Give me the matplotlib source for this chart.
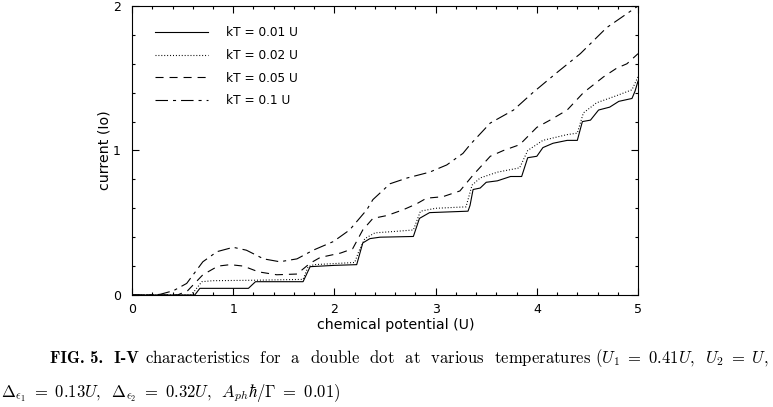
import matplotlib
matplotlib.use("Agg")
import matplotlib.pyplot as plt
import numpy as np

plt.rcParams['font.family'] = ['DejaVu Sans']
plt.rcParams['mathtext.fontset'] = 'cm'
plt.rcParams['lines.scale_dashes'] = False

# kT = 0.01 U
mu1 = [0, 0.62, 0.67, 1.15, 1.22, 1.69, 1.76, 2.0, 2.22, 2.28, 2.35, 2.45, 2.78, 2.84,
       2.94, 3.32, 3.34, 3.37, 3.44, 3.50, 3.61, 3.74, 3.85, 3.91, 4.0, 4.06, 4.16, 4.30,
       4.40, 4.45, 4.53, 4.61, 4.72, 4.81, 4.94, 4.97, 5.0]
i1 = [0, 0, 0.046, 0.046, 0.092, 0.092, 0.196, 0.205, 0.21, 0.36, 0.39, 0.40, 0.405, 0.53,
      0.57, 0.58, 0.62, 0.73, 0.74, 0.78, 0.79, 0.82, 0.82, 0.95, 0.96, 1.02, 1.05, 1.07,
      1.07, 1.20, 1.21, 1.28, 1.30, 1.34, 1.36, 1.41, 1.48]
# kT = 0.02 U
mu2 = [0, 0.58, 0.62, 0.69, 0.8, 1.2, 1.69, 1.74, 1.80, 2.2, 2.24, 2.30, 2.40, 2.60, 2.78,
       2.85, 3.0, 3.30, 3.36, 3.44, 3.61, 3.83, 3.91, 4.06, 4.30, 4.40, 4.46, 4.59, 4.79,
       4.94, 5.0]
i2 = [0, 0, 0.03, 0.092, 0.099, 0.102, 0.108, 0.196, 0.21, 0.225, 0.30, 0.39, 0.43, 0.44,
      0.45, 0.58, 0.60, 0.61, 0.76, 0.81, 0.85, 0.88, 1.0, 1.07, 1.11, 1.12, 1.26, 1.33,
      1.38, 1.42, 1.51]
# kT = 0.05 U
mu5 = [0, 0.45, 0.55, 0.7, 0.85, 0.97, 1.1, 1.25, 1.43, 1.63, 1.76, 1.86, 2.06, 2.18,
       2.28, 2.38, 2.52, 2.68, 2.81, 2.91, 3.07, 3.24, 3.37, 3.54, 3.67, 3.83, 4.0, 4.13,
       4.30, 4.46, 4.66, 4.79, 4.89, 5.0]
i5 = [0, 0, 0.03, 0.14, 0.20, 0.21, 0.20, 0.16, 0.14, 0.145, 0.22, 0.26, 0.29, 0.32,
      0.45, 0.53, 0.55, 0.59, 0.63, 0.67, 0.68, 0.72, 0.83, 0.96, 1.0, 1.04, 1.16, 1.21,
      1.28, 1.40, 1.51, 1.57, 1.60, 1.67]
# kT = 0.1 U
mu10 = [0, 0.22, 0.28, 0.41, 0.54, 0.70, 0.84, 1.0, 1.13, 1.30, 1.46, 1.63, 1.79, 1.99,
        2.15, 2.32, 2.38, 2.55, 2.72, 2.94, 3.11, 3.27, 3.34, 3.54, 3.77, 3.96, 4.2, 4.43,
        4.69, 5.0]
i10 = [0, 0, 0.005, 0.03, 0.08, 0.23, 0.30, 0.33, 0.31, 0.25, 0.23, 0.25, 0.31, 0.37,
       0.45, 0.59, 0.66, 0.77, 0.81, 0.85, 0.90, 0.98, 1.04, 1.19, 1.28, 1.40, 1.54, 1.67,
       1.85, 2.0]

labels = ["kT = 0.01 U", "kT = 0.02 U", "kT = 0.05 U", "kT = 0.1 U"]

fig = plt.figure(figsize=(7.73, 4.07), dpi=100)
ax = fig.add_axes([0.1708, 0.2752, 0.6546, 0.7101])

lw = 0.8
ax.plot(mu1, i1, c='k', lw=lw, label=labels[0])
ax.plot(mu2, i2, c='k', lw=lw, linestyle=(0, (0.7, 1.4)), label=labels[1])
ax.plot(mu5, i5, c='k', lw=lw, linestyle=(0, (5.8, 4.3)), label=labels[2])
ax.plot(mu10, i10, c='k', lw=lw, linestyle=(0, (9, 3.6, 2.2, 3.6)), label=labels[3])

ax.set_xlim(0, 5)
ax.set_ylim(0, 2)
ax.set_xticks([0, 1, 2, 3, 4, 5])
ax.set_yticks([0, 1, 2])
ax.set_xticks(np.arange(0, 5.01, 0.2), minor=True)
ax.set_yticks(np.arange(0, 2.01, 0.2), minor=True)
ax.tick_params(which='both', direction='in', top=True, right=True, labelsize=9, width=0.8)
ax.tick_params(which='major', length=5)
ax.tick_params(axis='x', which='major', pad=6)
ax.tick_params(axis='y', which='major', pad=8)
ax.tick_params(which='minor', length=2.5)
for s in ax.spines.values():
    s.set_linewidth(0.8)

ax.set_xlabel("chemical potential (U)", fontsize=10.2)
ax.set_ylabel("current (Io)", fontsize=10.2)
ax.xaxis.set_label_coords(0.522, -0.08)
ax.yaxis.set_label_coords(-0.04, 0.5)

ax.legend(loc='upper left', bbox_to_anchor=(0.045, 0.93), frameon=False, fontsize=8.7,
          handlelength=4.4, handletextpad=1.5, labelspacing=0.8, borderaxespad=0,
          borderpad=0)

# caption: bold "FIG. 5.  I-V", then the rest on the same baseline
t1 = fig.text(0.065, 0.107, "FIG. 5.  I-V", fontsize=12, family='cmb10',
              va='baseline', ha='left')
fig.canvas.draw()
bb = t1.get_window_extent()
W = fig.bbox.width
fig.text(bb.x1 / W + 0.008, 0.107,
         r"characteristics  for  a  double  dot  at  various  temperatures "
         r"($U_1\ =\ 0.41U$,  $U_2\ =\ U$,",
         fontsize=12, family='cmr10', va='baseline', ha='left')
fig.text(0.001, 0.034,
         r"$\Delta_{\epsilon_1}\ =\ 0.13U$,  $\Delta_{\epsilon_2}\ =\ 0.32U$,  "
         r"$A_{ph}\hbar/\Gamma\ =\ 0.01)$",
         fontsize=12, family='cmr10', va='center', ha='left')

fig.savefig("out.png", dpi=100)
